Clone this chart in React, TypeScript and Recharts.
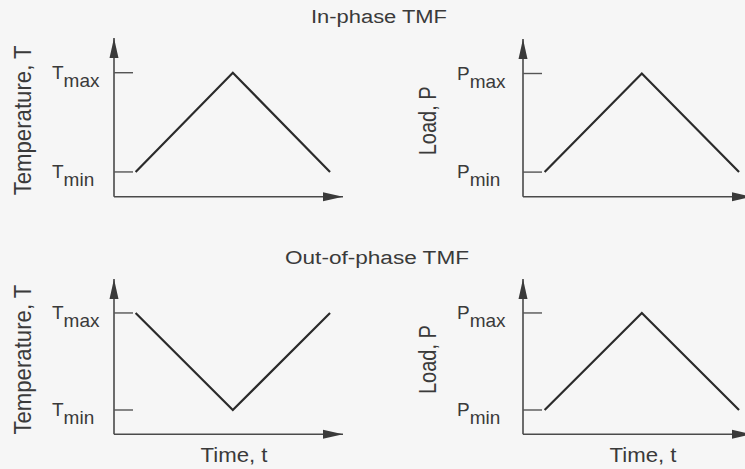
import React from 'react';
import { LineChart, Line, XAxis, YAxis } from 'recharts';

// ---- data ----
const timePoints = [1, 5.5, 10];
const inPhaseTemperature = [1, 5, 1];
const inPhaseLoad = [1, 5, 1];
const outOfPhaseTemperature = [5, 1, 5];
const outOfPhaseLoad = [1, 5, 1];
const levelValues = [1, 5];
const levelLabels = ['min', 'max'];
const titles = ['In-phase TMF', 'Out-of-phase TMF'];
const xLabel = 'Time, t';

const TEXT = '#3a3a3a';
const FONT = '"Liberation Sans", Arial, Helvetica, sans-serif';
const AXIS = '#4a4a4a';

const build = (vals: number[]) => timePoints.map((t, i) => ({ t, v: vals[i] }));

type PanelProps = {
  id: string;
  values: number[];
  symbol: string;
  yLabel: string;
  yLabelLen: number;
  yLabelDx: number;
  tickDx: number;
  axisWidth: number;
  left: number;
  top: number;
  width: number;
  height: number;
  margin: { top: number; right: number; bottom: number; left: number };
  showTime: boolean;
};

function YTick(props: any) {
  const { x, y, payload, symbol, tickDx } = props;
  const idx = levelValues.indexOf(payload.value);
  return (
    <g>
      <line x1={x} x2={x + 19} y1={y} y2={y} stroke="#555" strokeWidth={1.4} />
      <text x={x - tickDx} y={y + 6} fill={TEXT} fontSize={19} fontFamily={FONT}>
        {symbol}
        <tspan dy={8}>{levelLabels[idx]}</tspan>
      </text>
    </g>
  );
}

function Panel(p: PanelProps) {
  const data = build(p.values);
  const markerId = 'arrow-' + p.id;
  return (
    <div style={{ position: 'absolute', left: p.left, top: p.top }}>
      <LineChart width={p.width} height={p.height} data={data} margin={p.margin}>
        <defs>
          <marker
            id={markerId}
            markerUnits="userSpaceOnUse"
            markerWidth={20}
            markerHeight={10}
            refX={20}
            refY={5}
            orient="auto-start-reverse"
          >
            <path d="M0,0.5 L20,5 L0,9.5 z" fill="#3a3a3a" />
          </marker>
        </defs>
        <XAxis
          dataKey="t"
          type="number"
          domain={[0, 10.6]}
          tick={false}
          tickLine={false}
          height={30}
          axisLine={{ stroke: AXIS, strokeWidth: 1.6, markerEnd: `url(#${markerId})` } as any}
          label={
            p.showTime
              ? {
                  content: (lp: any) => {
                    const vb = lp.viewBox || {};
                    return (
                      <text
                        x={vb.x + 120}
                        y={vb.y + 28}
                        textAnchor="middle"
                        fill={TEXT}
                        fontSize={20}
                        fontFamily={FONT}
                        textLength={67}
                        lengthAdjust="spacingAndGlyphs"
                      >
                        {xLabel}
                      </text>
                    );
                  },
                }
              : undefined
          }
        />
        <YAxis
          type="number"
          domain={[0, 6.4]}
          ticks={levelValues}
          interval={0}
          width={p.axisWidth}
          tickSize={0}
          tickMargin={0}
          tickLine={false}
          axisLine={{ stroke: AXIS, strokeWidth: 1.6, markerStart: `url(#${markerId})` } as any}
          tick={(tp: any) => <YTick {...tp} symbol={p.symbol} tickDx={p.tickDx} />}
          label={{
            content: (lp: any) => {
              const vb = lp.viewBox || {};
              const cx = vb.x + vb.width - p.yLabelDx;
              const cy = vb.y + vb.height / 2 + 3;
              return (
                <text
                  transform={`translate(${cx},${cy}) rotate(-90) scale(1,1.12)`}
                  x={0}
                  y={0}
                  textAnchor="middle"
                  fill={TEXT}
                  fontSize={21}
                  fontFamily={FONT}
                  textLength={p.yLabelLen}
                  lengthAdjust="spacingAndGlyphs"
                >
                  {p.yLabel}
                </text>
              );
            },
          }}
        />
        <Line
          type="linear"
          dataKey="v"
          stroke="#2b2b2b"
          strokeWidth={2.2}
          dot={false}
          activeDot={false}
          isAnimationActive={false}
        />
      </LineChart>
    </div>
  );
}

export default function App() {
  return (
    <div
      style={{
        position: 'absolute',
        left: 0,
        top: 0,
        width: 745,
        height: 469,
        overflow: 'hidden',
        background: '#f6f6f6',
      }}
    >
      <Panel
        id="tl"
        values={inPhaseTemperature}
        symbol="T"
        yLabel="Temperature, T"
        yLabelLen={150}
        yLabelDx={83}
        tickDx={62}
        axisWidth={114}
        left={0}
        top={0}
        width={372}
        height={234}
        margin={{ top: 38, right: 29, bottom: 7.25, left: 0 }}
        showTime={false}
      />
      <Panel
        id="tr"
        values={inPhaseLoad}
        symbol="P"
        yLabel="Load, P"
        yLabelLen={69}
        yLabelDx={87}
        tickDx={66}
        axisWidth={151}
        left={372}
        top={0}
        width={385}
        height={234}
        margin={{ top: 39, right: 5, bottom: 7.25, left: 0 }}
        showTime={false}
      />
      <Panel
        id="bl"
        values={outOfPhaseTemperature}
        symbol="T"
        yLabel="Temperature, T"
        yLabelLen={150}
        yLabelDx={83}
        tickDx={62}
        axisWidth={114}
        left={0}
        top={234}
        width={372}
        height={235}
        margin={{ top: 45, right: 29, bottom: 4.75, left: 0 }}
        showTime={true}
      />
      <Panel
        id="br"
        values={outOfPhaseLoad}
        symbol="P"
        yLabel="Load, P"
        yLabelLen={69}
        yLabelDx={87}
        tickDx={66}
        axisWidth={151}
        left={372}
        top={234}
        width={385}
        height={235}
        margin={{ top: 45, right: 5, bottom: 4.75, left: 0 }}
        showTime={true}
      />
      <svg
        width={745}
        height={469}
        style={{ position: 'absolute', left: 0, top: 0, pointerEvents: 'none' }}
      >
        <text
          x={379}
          y={23}
          textAnchor="middle"
          fill={TEXT}
          fontSize={18}
          fontFamily={FONT}
          textLength={136}
          lengthAdjust="spacingAndGlyphs"
        >
          {titles[0]}
        </text>
        <text
          x={377}
          y={264}
          textAnchor="middle"
          fill={TEXT}
          fontSize={18}
          fontFamily={FONT}
          textLength={184}
          lengthAdjust="spacingAndGlyphs"
        >
          {titles[1]}
        </text>
      </svg>
    </div>
  );
}
